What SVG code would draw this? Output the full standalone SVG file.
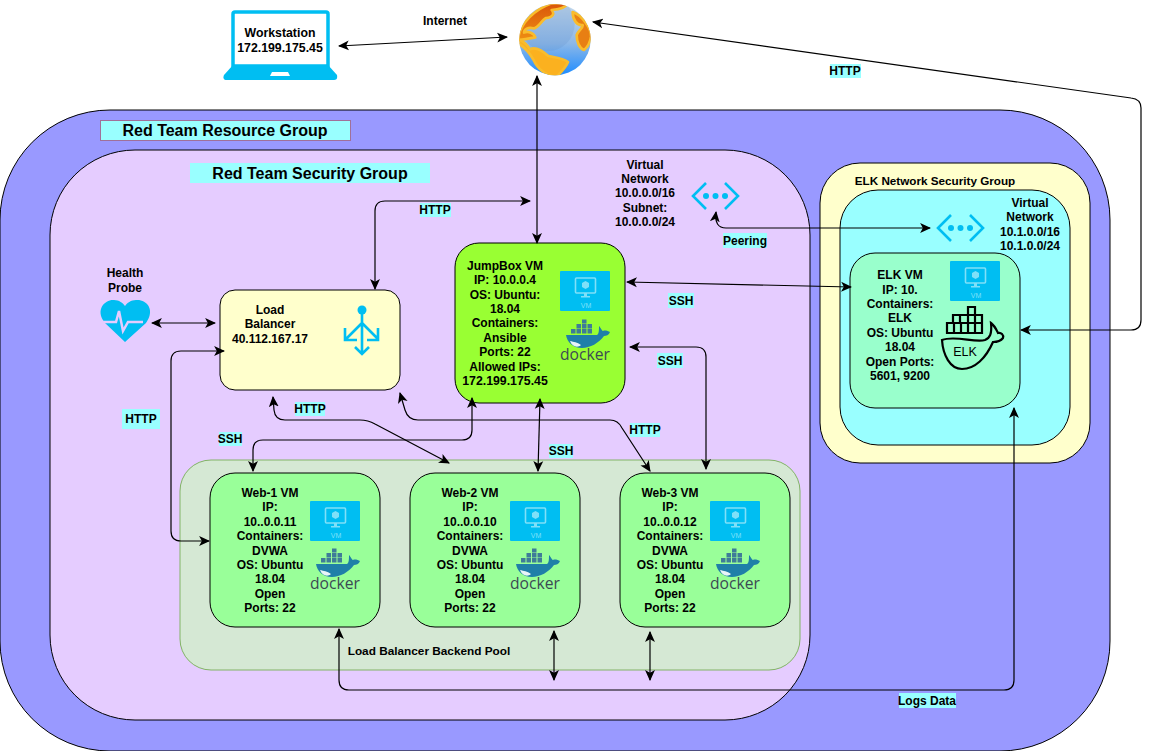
<svg xmlns="http://www.w3.org/2000/svg" width="1150" height="751" viewBox="0 0 1150 751">
<style>
text{font-family:"Liberation Sans",Arial,sans-serif;font-size:12px;font-weight:bold;fill:#000;text-anchor:middle}
.big{font-size:16px}
.ip{font-size:12.300px}
.s{stroke:#000;stroke-width:1}
.c{fill:none;stroke:#000;stroke-width:1.200;marker-start:url(#a);marker-end:url(#a)}
.lab{fill:#99FFFF}
.i{fill:#00BEF2}
.il{fill:none;stroke:#00BEF2}
.land{stroke:#F9BC2C;stroke-width:8;stroke-linejoin:round}
</style>
<defs>
<marker id="a" viewBox="0 0 10 10" refX="9" refY="5" markerWidth="11" markerHeight="11" markerUnits="userSpaceOnUse" orient="auto-start-reverse"><path d="M0,0.500 L10,5 L0,9.500 L2.500,5 Z" fill="#000"/></marker>
<linearGradient id="glow" x1="0" y1="0" x2="0" y2="1"><stop offset="0" stop-color="#C4D8EA"/><stop offset="0.55" stop-color="#8DB8E8"/><stop offset="1" stop-color="#1E8CFF"/></linearGradient>
<linearGradient id="land" x1="0" y1="0" x2="0" y2="1"><stop offset="0" stop-color="#D9540B"/><stop offset="1" stop-color="#EE8E12"/></linearGradient>
<clipPath id="globe"><circle cx="135" cy="119" r="107"/></clipPath>
<g id="vm">
<rect width="50" height="40" rx="1" class="i"/>
<rect x="15.500" y="7" width="20" height="15" rx="1" fill="none" stroke="#7FE0F8" stroke-width="1.600"/>
<path d="M25.500,10 l3.500,2 v4 l-3.500,2 l-3.500,-2 v-4z" fill="#7FE0F8"/>
<path d="M24,22 h3 v3 h3 v1.500 h-9 v-1.500 h3z" fill="#7FE0F8"/>
<text x="26" y="37" style="font-size:7px;font-weight:normal;fill:#7FE0F8">VM</text>
</g>
<g id="docker">
<g fill="#3E7C98"><rect x="11" y="7" width="4.500" height="4.500"/><rect x="16.500" y="7" width="4.500" height="4.500"/><rect x="22" y="7" width="4.500" height="4.500"/><rect x="27.500" y="7" width="4.500" height="4.500"/><rect x="16.500" y="2" width="4.500" height="4.500"/><rect x="22" y="2" width="4.500" height="4.500"/><rect x="27.500" y="2" width="4.500" height="4.500"/><rect x="22" y="-2.500" width="4.500" height="4"/></g>
<path d="M6,13 H37 C39,12 39,8 39,4 C41,6 42,9 43,9 C45,8 48,9 50,10 C49,13 46,14 44,14 C39,21 30,26 22,26 C13,26 7,20 6,13Z" fill="#1F7FA8"/>
<path d="M10,19 C14,20 17,20 21,23 C18,26 12,25 10,19Z" fill="#E8F4F8"/>
<text x="25" y="38" textLength="50" lengthAdjust="spacingAndGlyphs" style="font-size:17px;font-weight:normal;fill:#3C4A54;font-family:'Open Sans',sans-serif">docker</text>
</g>
<g id="net">
<path d="M16,3 L3,16 L16,29 M35,3 L48,16 L35,29" class="il" stroke-width="2.600"/>
<circle cx="16" cy="16" r="3" class="i"/><circle cx="25.500" cy="16" r="3" class="i"/><circle cx="35" cy="16" r="3" class="i"/>
</g>
</defs>
<rect width="1150" height="751" fill="#fff"/>

<g id="resource-group">
<rect x="0" y="110" width="1110" height="641" rx="110" fill="#9999FF" class="s"/>
<rect x="100.500" y="120.500" width="250" height="20" fill="#99FFFF" stroke="#A0709A"/>
<text x="225" y="136" class="big">Red Team Resource Group</text>
</g>
<g id="security-group">
<rect x="50" y="150" width="760" height="570" rx="85" fill="#E5CCFF" class="s"/>
<rect x="190" y="163" width="240" height="20" class="lab"/>
<text x="310" y="179" class="big">Red Team Security Group</text>
</g>
<g id="vnet">
<text x="645" y="169">Virtual</text><text x="645" y="183">Network</text><text x="645" y="197">10.0.0.0/16</text><text x="645" y="212">Subnet:</text><text x="645" y="226">10.0.0.0/24</text>
<use href="#net" x="690" y="180"/>
</g>
<g id="elk-nsg">
<rect x="820" y="163" width="270" height="300" rx="40" fill="#FFFFCC" class="s"/>
<text x="935" y="185" style="font-size:11.700px">ELK Network Security Group</text>
</g>
<g id="elk-vnet">
<rect x="840" y="190" width="230" height="255" rx="38" fill="#99FFFF" class="s"/>
<text x="1030" y="207">Virtual</text><text x="1030" y="221">Network</text><text x="1030" y="236">10.1.0.0/16</text><text x="1030" y="250">10.1.0.0/24</text>
<use href="#net" x="935" y="212"/>
</g>
<g id="backend-pool">
<rect x="180" y="460" width="620" height="210" rx="31" fill="#D5E8D4" stroke="#82B366"/>
<text x="429" y="655" style="font-size:11.800px">Load Balancer Backend Pool</text>
</g>

<g id="workstation">
<path d="M235,12 H326 a2,2 0 0 1 2,2 V66 H233 V14 a2,2 0 0 1 2,-2Z" fill="#fff" stroke="#00BEF2" stroke-width="3.500"/>
<path d="M233,65 H328 L337,75 Q338,80 334,80 H227 Q222,80 224,75Z" class="i"/>
<path d="M272,72 H288 L290,76 H270Z" fill="#fff"/>
<text x="280" y="37" class="ip">Workstation</text><text x="280" y="52" class="ip">172.199.175.45</text>
</g>
<g id="internet">
<text x="445" y="25">Internet</text>
<g transform="translate(510,0) scale(.3333)">
<circle cx="135" cy="119" r="107" fill="url(#glow)"/>
<g clip-path="url(#globe)">
<circle cx="112" cy="72" r="82" fill="#5F8FC8" opacity=".22"/>
<path d="M26,108 C34,70 70,30 125,10 L172,8 C170,22 150,28 125,30 C135,42 128,52 108,54 C95,60 85,85 70,85 C55,80 42,88 42,98 C55,92 72,100 76,112 C60,115 45,118 26,120Z" fill="url(#land)" class="land"/>
<path d="M24,118 C38,122 50,132 60,148 C75,140 95,150 115,168 C135,172 160,174 174,186 C168,202 155,215 140,230 C110,230 82,205 72,182 C60,160 42,140 24,130Z" fill="#FBB11F" class="land"/>
<path d="M188,36 C215,45 245,85 243,110 C240,130 232,142 222,150 C208,145 200,125 200,105 C205,90 220,85 218,75 C202,78 188,60 188,36Z" fill="#E87F13" class="land"/>
</g>
</g>
</g>
<g id="health-probe">
<text x="125" y="277">Health</text><text x="125" y="292">Probe</text>
<path d="M125,342 L105,323 C94,309 106,299 114,300 C119,300 123,303 125,306 C127,303 131,300 136,300 C146,299 156,309 146,323Z" class="i"/>
<path d="M102,322 H116 L119,311 L123,331 L128,322 H143" fill="none" stroke="#E5CCFF" stroke-width="2.500"/>
</g>
<g id="load-balancer">
<rect x="220" y="290" width="180" height="100" rx="15" fill="#FFFFCC" class="s"/>
<text x="270" y="314">Load</text><text x="270" y="328">Balancer</text><text x="270" y="343">40.112.167.17</text>
<circle cx="362" cy="310" r="4.500" class="i"/>
<path d="M362,312 V353 M362,323 L346,339 M362,323 L378,339 M345,328 V340 H357 M378,328 V340 H367 M355,347 L362,354 L369,347" class="il" stroke-width="2.600"/>
</g>
<g id="jumpbox">
<rect x="455" y="243" width="170" height="160" rx="24" fill="#99FF33" class="s"/>
<text x="505" y="270">JumpBox VM</text><text x="505" y="284">IP: 10.0.0.4</text><text x="505" y="299">OS: Ubuntu:</text><text x="505" y="313">18.04</text><text x="505" y="327">Containers:</text><text x="505" y="342">Ansible</text><text x="505" y="356">Ports: 22</text><text x="505" y="371">Allowed IPs:</text><text x="505" y="385" class="ip">172.199.175.45</text>
<use href="#vm" x="560" y="271"/><use href="#docker" x="560" y="322"/>
</g>
<g id="web-1">
<rect x="210" y="473" width="170" height="154" rx="25" fill="#99FF99" class="s"/>
<text x="270" y="497">Web-1 VM</text><text x="270" y="511">IP:</text><text x="270" y="526">10..0.0.11</text><text x="270" y="540">Containers:</text><text x="270" y="555">DVWA</text><text x="270" y="569">OS: Ubuntu</text><text x="270" y="583">18.04</text><text x="270" y="598">Open</text><text x="270" y="612">Ports: 22</text>
<use href="#vm" x="310" y="501"/><use href="#docker" x="310" y="551"/>
</g>
<g id="web-2">
<rect x="410" y="473" width="170" height="154" rx="25" fill="#99FF99" class="s"/>
<text x="470" y="497">Web-2 VM</text><text x="470" y="511">IP:</text><text x="470" y="526">10..0.0.10</text><text x="470" y="540">Containers:</text><text x="470" y="555">DVWA</text><text x="470" y="569">OS: Ubuntu</text><text x="470" y="583">18.04</text><text x="470" y="598">Open</text><text x="470" y="612">Ports: 22</text>
<use href="#vm" x="510" y="501"/><use href="#docker" x="510" y="551"/>
</g>
<g id="web-3">
<rect x="620" y="473" width="170" height="154" rx="25" fill="#99FF99" class="s"/>
<text x="670" y="497">Web-3 VM</text><text x="670" y="511">IP:</text><text x="670" y="526">10..0.0.12</text><text x="670" y="540">Containers:</text><text x="670" y="555">DVWA</text><text x="670" y="569">OS: Ubuntu</text><text x="670" y="583">18.04</text><text x="670" y="598">Open</text><text x="670" y="612">Ports: 22</text>
<use href="#vm" x="710" y="501"/><use href="#docker" x="710" y="551"/>
</g>
<g id="elk-vm">
<rect x="850" y="253" width="170" height="155" rx="25" fill="#99FFCC" class="s"/>
<text x="900" y="279">ELK VM</text><text x="900" y="294">IP: 10.</text><text x="900" y="308">Containers:</text><text x="900" y="322">ELK</text><text x="900" y="337">OS: Ubuntu</text><text x="900" y="351">18.04</text><text x="900" y="366">Open Ports:</text><text x="900" y="380">5601, 9200</text>
<use href="#vm" x="950" y="261"/>
<g fill="none" stroke="#000" stroke-width="2.200">
<path d="M942,340 C955,335 975,343 985,340 C990,338 992,334 991,323 C995,326 997,331 998,333 C1001,332 1004,335 1003,338 C1000,342 996,342 993,342 C986,358 975,369 962,369 C950,369 943,355 942,340Z"/>
<path d="M947,323 h7 v10 h-7z M954,323 h7 v10 h-7z M961,323 h7 v10 h-7z M968,323 h7 v10 h-7z M975,323 h7 v10 h-7z M953,315 h7 v8 h-7z M960,315 h8 v8 h-8z M968,315 h7 v8 h-7z M975,315 h7 v8 h-7z M968,307 h7 v8 h-7z"/>
</g>
<text x="965" y="356" style="font-size:12.500px;font-weight:normal">ELK</text>
</g>

<g id="connectors">
<path class="c" d="M339,46 L507,37"/>
<path class="c" d="M537,76 V243"/>
<path class="c" d="M1021,330 H1131 Q1141,330 1141,320 V108 Q1141,99 1131,98 L593,22"/>
<path class="c" d="M375,289 V211 Q375,201 385,201 H530"/>
<path class="c" d="M152,323 H215"/>
<path class="c" d="M224,351 H181 Q171,351 171,361 V531 Q171,541 181,541 H209"/>
<path class="c" d="M716,212 Q714,228 726,228 H930"/>
<path class="c" d="M627,282 L851,287"/>
<path class="c" d="M630,347 H696 Q706,347 706,357 V469"/>
<path class="c" d="M472,398 V430 Q472,440 462,440 H263 Q253,440 253,450 V471"/>
<path class="c" d="M540,399 L538,471"/>
<path class="c" d="M273,397 L274,410 Q275,420 285,420 H360 Q368,420 375,424 L449,463"/>
<path class="c" d="M400,393 L405,410 Q408,420 418,420 H610 Q618,420 622,428 L650,471"/>
<path class="c" d="M1014,408 V680 Q1014,690 1004,690 H349 Q339,690 339,680 V629"/>
<path class="c" d="M554,631 V680"/>
<path class="c" d="M650,632 V680"/>
<g id="connector-labels">
<rect x="830" y="64" width="31" height="14" class="lab"/><text x="845" y="75">HTTP</text>
<rect x="420" y="203" width="31" height="14" class="lab"/><text x="435" y="214">HTTP</text>
<rect x="723" y="233" width="44" height="15" class="lab"/><text x="745" y="245">Peering</text>
<rect x="668" y="293" width="26" height="15" class="lab"/><text x="681" y="305">SSH</text>
<rect x="657" y="353" width="26" height="15" class="lab"/><text x="670" y="365">SSH</text>
<rect x="122" y="409" width="38" height="20" class="lab"/><text x="141" y="423">HTTP</text>
<rect x="295" y="402" width="30" height="14" class="lab"/><text x="310" y="413">HTTP</text>
<rect x="630" y="423" width="30" height="14" class="lab"/><text x="645" y="434">HTTP</text>
<rect x="219" y="432" width="23" height="14" class="lab"/><text x="230" y="443">SSH</text>
<rect x="549" y="444" width="24" height="14" class="lab"/><text x="561" y="455">SSH</text>
<rect x="899" y="693" width="57" height="15" class="lab"/><text x="927" y="705">Logs Data</text>
</g>
</g>
</svg>
